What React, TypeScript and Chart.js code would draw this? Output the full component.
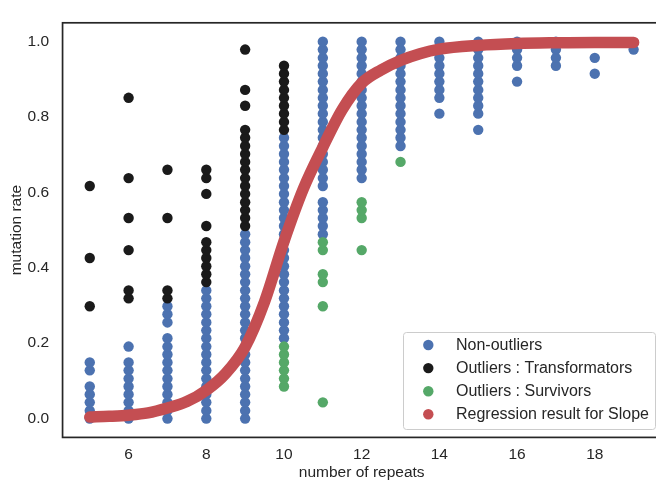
import { useEffect, useRef } from "react";
import { Chart, registerables } from "chart.js";

Chart.register(...registerables);

const FONT = '"Liberation Sans", Arial, Helvetica, sans-serif';
const TEXT_COLOR = "#262626";

Chart.defaults.font.family = FONT;
Chart.defaults.color = TEXT_COLOR;

const repeatTicks = [6, 8, 10, 12, 14, 16, 18];
const rateTicks = [0, 0.2, 0.4, 0.6, 0.8, 1.0];

const xTitle = "number of repeats";
const yTitle = "mutation rate";

const seriesLabels = [
  "Non-outliers",
  "Outliers : Transformators",
  "Outliers : Survivors",
  "Regression result for Slope",
];
const seriesColors = ["#4C72B0", "#1A1A1A", "#55A868", "#C44E52"];

// [number of repeats, mutation rates observed at that repeat count]
const nonOutlierColumns: [number, number[]][] = [
  [5, [0, 0.021, 0.043, 0.064, 0.085, 0.128, 0.149]],
  [6, [0, 0.021, 0.043, 0.064, 0.085, 0.106, 0.128, 0.149, 0.191]],
  [7, [0, 0.021, 0.043, 0.064, 0.085, 0.106, 0.128, 0.149, 0.17, 0.191, 0.213, 0.255, 0.277, 0.298]],
  [8, [0, 0.021, 0.043, 0.064, 0.085, 0.106, 0.128, 0.149, 0.17, 0.191, 0.213, 0.234, 0.255, 0.277, 0.298, 0.319, 0.34]],
  [9, [0, 0.021, 0.043, 0.064, 0.085, 0.106, 0.128, 0.149, 0.17, 0.191, 0.213, 0.234, 0.255, 0.277, 0.298, 0.319, 0.34, 0.362, 0.383, 0.404, 0.426, 0.447, 0.468, 0.489]],
  [10, [0.213, 0.234, 0.255, 0.277, 0.298, 0.319, 0.34, 0.362, 0.383, 0.404, 0.426, 0.447, 0.468, 0.489, 0.511, 0.532, 0.553, 0.574, 0.596, 0.617, 0.638, 0.66, 0.681, 0.702, 0.723, 0.745]],
  [11, [0.489, 0.511, 0.532, 0.553, 0.574, 0.617, 0.638, 0.66, 0.681, 0.702, 0.723, 0.745, 0.766, 0.787, 0.809, 0.83, 0.851, 0.872, 0.894, 0.915, 0.936, 0.957, 0.979, 1.0]],
  [12, [0.638, 0.66, 0.681, 0.702, 0.723, 0.745, 0.766, 0.787, 0.809, 0.83, 0.851, 0.872, 0.894, 0.915, 0.936, 0.957, 0.979, 1.0]],
  [13, [0.723, 0.745, 0.766, 0.787, 0.809, 0.83, 0.851, 0.872, 0.894, 0.915, 0.936, 0.957, 0.979, 1.0]],
  [14, [0.809, 0.851, 0.872, 0.894, 0.915, 0.936, 0.957, 0.979, 1.0]],
  [15, [0.766, 0.809, 0.83, 0.851, 0.872, 0.894, 0.915, 0.936, 0.957, 0.979, 1.0]],
  [16, [0.894, 0.936, 0.957, 0.979, 1.0]],
  [17, [0.936, 0.957, 0.979, 1.0]],
  [18, [0.915, 0.957]],
  [19, [0.979]],
];

const transformatorColumns: [number, number[]][] = [
  [5, [0.298, 0.426, 0.617]],
  [6, [0.319, 0.34, 0.447, 0.532, 0.638, 0.851]],
  [7, [0.319, 0.34, 0.532, 0.66]],
  [8, [0.362, 0.383, 0.404, 0.426, 0.447, 0.468, 0.511, 0.596, 0.638, 0.66]],
  [9, [0.511, 0.532, 0.553, 0.574, 0.596, 0.617, 0.638, 0.66, 0.681, 0.702, 0.723, 0.745, 0.766, 0.83, 0.872, 0.979]],
  [10, [0.766, 0.787, 0.809, 0.83, 0.851, 0.872, 0.894, 0.915, 0.936]],
];

const survivorColumns: [number, number[]][] = [
  [10, [0.085, 0.106, 0.128, 0.149, 0.17, 0.191]],
  [11, [0.043, 0.298, 0.362, 0.383, 0.447, 0.468]],
  [12, [0.447, 0.532, 0.553, 0.574]],
  [13, [0.681]],
];

// fitted slope curve, sampled along the repeat axis
const slopeRepeats = [5, 5.5, 6, 6.5, 7, 7.5, 8, 8.5, 9, 9.5, 10, 10.5, 11, 11.5, 12, 12.5, 13, 13.5, 14, 15, 16, 17, 18, 19];
const slopeRates = [0.004, 0.006, 0.009, 0.015, 0.028, 0.045, 0.075, 0.12, 0.19, 0.31, 0.47, 0.61, 0.72, 0.82, 0.89, 0.925, 0.95, 0.968, 0.98, 0.99, 0.995, 0.997, 0.998, 0.998];

const toPoints = (cols: [number, number[]][]) =>
  cols.flatMap(([x, ys]) => ys.map((y) => ({ x, y })));

const decorPlugin = {
  id: "decor",
  afterDraw(chart: any) {
    const { ctx, chartArea: a } = chart;
    ctx.save();
    // axes frame
    ctx.strokeStyle = TEXT_COLOR;
    ctx.lineWidth = 1.7;
    ctx.strokeRect(a.left, a.top, a.right - a.left, a.bottom - a.top);

    // axis titles
    ctx.fillStyle = TEXT_COLOR;
    ctx.font = `15.5px ${FONT}`;
    ctx.textAlign = "center";
    ctx.textBaseline = "middle";
    ctx.fillText(xTitle, (a.left + a.right) / 2, 473);
    ctx.save();
    ctx.translate(17, (a.top + a.bottom) / 2);
    ctx.rotate(-Math.PI / 2);
    ctx.fillText(yTitle, 0, 0);
    ctx.restore();

    // legend box
    const bx = 403.5, by = 332.5, bw = 252, bh = 97, r = 3;
    ctx.beginPath();
    ctx.moveTo(bx + r, by);
    ctx.lineTo(bx + bw - r, by);
    ctx.arcTo(bx + bw, by, bx + bw, by + r, r);
    ctx.lineTo(bx + bw, by + bh - r);
    ctx.arcTo(bx + bw, by + bh, bx + bw - r, by + bh, r);
    ctx.lineTo(bx + r, by + bh);
    ctx.arcTo(bx, by + bh, bx, by + bh - r, r);
    ctx.lineTo(bx, by + r);
    ctx.arcTo(bx, by, bx + r, by, r);
    ctx.closePath();
    ctx.fillStyle = "rgba(255,255,255,0.8)";
    ctx.fill();
    ctx.strokeStyle = "#cccccc";
    ctx.lineWidth = 1;
    ctx.stroke();

    ctx.font = `16px ${FONT}`;
    ctx.textAlign = "left";
    ctx.textBaseline = "middle";
    chart.data.datasets.forEach((ds: any, i: number) => {
      const cy = 345 + i * 23.1;
      ctx.beginPath();
      ctx.arc(428.3, cy, 5.2, 0, Math.PI * 2);
      ctx.fillStyle = seriesColors[i];
      ctx.fill();
      ctx.fillStyle = TEXT_COLOR;
      ctx.fillText(ds.label, 456, cy + 0.5);
    });
    ctx.restore();
  },
};

export default function App() {
  const canvasRef = useRef<HTMLCanvasElement | null>(null);

  useEffect(() => {
    const canvas = canvasRef.current;
    if (!canvas) return;
    const dot = (i: number, order: number) => ({
      label: seriesLabels[i],
      backgroundColor: seriesColors[i],
      borderColor: seriesColors[i],
      pointRadius: 5.2,
      pointHoverRadius: 5.2,
      pointBorderWidth: 0,
      showLine: false,
      order,
    });
    const tickFont = { family: FONT, size: 15.5 };
    const chart = new Chart(canvas, {
      type: "scatter",
      data: {
        datasets: [
          { ...dot(0, 3), data: toPoints(nonOutlierColumns) },
          { ...dot(1, 2), data: toPoints(transformatorColumns) },
          { ...dot(2, 1), data: toPoints(survivorColumns) },
          {
            label: seriesLabels[3],
            data: slopeRepeats.map((x, i) => ({ x, y: slopeRates[i] })),
            showLine: true,
            borderColor: seriesColors[3],
            backgroundColor: seriesColors[3],
            borderWidth: 11.5,
            borderCapStyle: "round",
            borderJoinStyle: "round",
            cubicInterpolationMode: "monotone",
            pointRadius: 0,
            pointHoverRadius: 0,
            clip: false,
            order: 0,
          } as any,
        ],
      },
      options: {
        animation: false,
        responsive: false,
        devicePixelRatio: 1,
        events: [],
        layout: { padding: { left: 0, right: 1.6, top: 10.6, bottom: 0 } },
        plugins: { legend: { display: false }, tooltip: { enabled: false } },
        scales: {
          x: {
            type: "linear",
            min: 4.3,
            max: 19.7,
            grid: { display: false, drawTicks: false },
            border: { display: false },
            ticks: {
              padding: 8,
              color: TEXT_COLOR,
              font: tickFont,
              callback: (v: any) => String(v),
            },
            afterBuildTicks: (s: any) => {
              s.ticks = repeatTicks.map((value) => ({ value }));
            },
            afterFit: (s: any) => {
              s.height = 46.6;
            },
          },
          y: {
            type: "linear",
            min: -0.05,
            max: 1.05,
            grid: { display: false, drawTicks: false },
            border: { display: false },
            ticks: {
              padding: 13.5,
              color: TEXT_COLOR,
              font: tickFont,
              callback: (v: any) => Number(v).toFixed(1),
            },
            afterBuildTicks: (s: any) => {
              s.ticks = rateTicks.map((value) => ({ value }));
            },
            afterFit: (s: any) => {
              s.width = 62.56;
            },
          },
        },
      },
      plugins: [decorPlugin],
    });
    return () => chart.destroy();
  }, []);

  return (
    <div
      style={{
        position: "fixed",
        left: 0,
        top: 0,
        width: 656,
        height: 484,
        overflow: "hidden",
        background: "#ffffff",
      }}
    >
      <canvas ref={canvasRef} width={666} height={484} style={{ width: 666, height: 484, display: "block" }} />
    </div>
  );
}
